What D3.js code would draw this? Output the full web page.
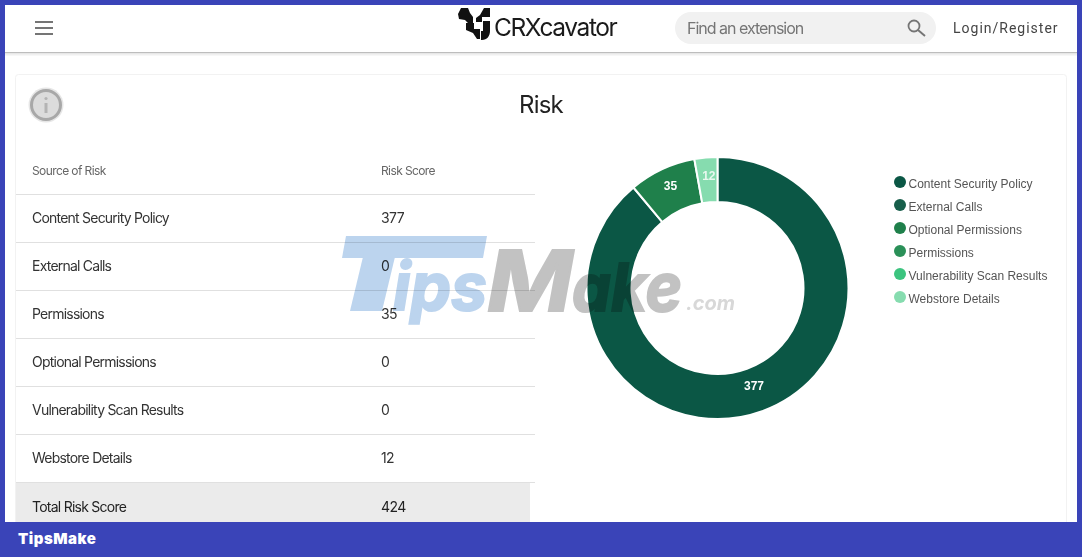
<!DOCTYPE html>
<html>
<head>
<meta charset="utf-8">
<script src="https://cdn.jsdelivr.net/npm/d3@7"></script>
<style>
html, body { margin: 0; padding: 0; background: #fff; overflow: hidden; }
svg { display: block; }
text { font-family: Inter, "Liberation Sans", sans-serif; }
</style>
</head>
<body>
<div id="chart"></div>
<script>
// legend
const legendNames = ["Content Security Policy", "External Calls", "Optional Permissions", "Permissions", "Vulnerability Scan Results", "Webstore Details"];
const sliceColors = ["#0b5745", "#175e4a", "#1f804b", "#2a9058", "#3cc47f", "#86dcaf"];

// table, the donut is drawn from it too (colours go by table order)
const tableHeader = ["Source of Risk", "Risk Score"];
const tableNames = ["Content Security Policy", "External Calls", "Permissions", "Optional Permissions", "Vulnerability Scan Results", "Webstore Details"];
const tableScores = [377, 0, 35, 0, 0, 12];
const totalLabel = "Total Risk Score";
const totalScore = 424;

const W = 1082, H = 557;
const svg = d3.select("#chart").append("svg").attr("width", W).attr("height", H);

const drawPage = () => {
	svg.append("rect").attr("width", W).attr("height", H).attr("fill", "#3a44b8");
	svg.append("rect").attr("x", 5).attr("y", 5).attr("width", 1072).attr("height", 517).attr("fill", "#fff");
	// app bar
	svg.append("rect").attr("x", 5).attr("y", 52).attr("width", 1072).attr("height", 1.5).attr("fill", "#bdbdbd");
	svg.append("rect").attr("x", 5).attr("y", 53.5).attr("width", 1072).attr("height", 2).attr("fill", "#f0f0f0");
	[21, 27, 33].forEach(y => {
		svg.append("rect").attr("x", 35).attr("y", y).attr("width", 18).attr("height", 2).attr("fill", "#757575");
	});

	// logo
	const logo = svg.append("g").attr("transform", "translate(458,8)").attr("fill", "#111");
	logo.append("path").attr("d", "M3 0h7l2 5 3 4v6h-5l-3-3-6-1-1-5z");
	logo.append("path").attr("d", "M18 10l4-3 4-7h6v9h-8v5h-6z");
	logo.append("path").attr("d", "M8 15h8v6h6v10h-3l-4-6-7-3z");
	logo.append("path").attr("d", "M25 13h7v10c0 5-3 9-8 9h-1v-9h2z");
	svg.append("text").attr("x", 494).attr("y", 36).attr("font-size", 24.5).attr("letter-spacing", -1.4).attr("fill", "#1a1a1a").text("CRXcavator");

	// search
	svg.append("rect").attr("x", 675).attr("y", 12).attr("width", 261).attr("height", 32).attr("rx", 16).attr("fill", "#f1f1f1");
	svg.append("text").attr("x", 687).attr("y", 34).attr("font-size", 16).attr("letter-spacing", -1).attr("fill", "#757575").text("Find an extension");
	svg.append("circle").attr("cx", 914).attr("cy", 26).attr("r", 5.5).attr("fill", "none").attr("stroke", "#757575").attr("stroke-width", 1.8);
	svg.append("line").attr("x1", 918).attr("y1", 30).attr("x2", 925).attr("y2", 36).attr("stroke", "#757575").attr("stroke-width", 2);
	svg.append("text").attr("x", 953).attr("y", 33).attr("font-size", 14).attr("letter-spacing", 1).attr("fill", "#444")
		.style("font-family", "Roboto").text("Login/Register");

	// card
	svg.append("rect").attr("x", 15.5).attr("y", 74.5).attr("width", 1051).attr("height", 460).attr("rx", 3)
		.attr("fill", "#fff").attr("stroke", "#f2f2f2");
	svg.append("text").attr("x", 541).attr("y", 113).attr("text-anchor", "middle").attr("font-size", 24).attr("letter-spacing", -0.8).attr("fill", "#222").text("Risk");

	// info icon
	svg.append("circle").attr("cx", 46).attr("cy", 105).attr("r", 17.5).attr("fill", "#e6e6e6");
	svg.append("circle").attr("cx", 46).attr("cy", 105).attr("r", 14.5).attr("fill", "#dcdcdc").attr("stroke", "#a8a8a8").attr("stroke-width", 3);
	svg.append("circle").attr("cx", 46).attr("cy", 98.5).attr("r", 1.6).attr("fill", "#b4b4b4");
	svg.append("rect").attr("x", 44.5).attr("y", 103).attr("width", 3).attr("height", 10).attr("fill", "#b4b4b4");
};

const drawTable = () => {
	const rowY = d3.scaleBand().domain(d3.range(tableNames.length + 1)).range([195, 531]);
	const g = svg.append("g");

	g.selectAll(".hd").data(tableHeader).join("text").attr("class", "hd")
		.attr("x", (d, i) => i ? 381 : 32).attr("y", 175).attr("font-size", 12).attr("letter-spacing", -0.6)
		.attr("fill", "#666").text(d => d);
	g.append("line").attr("x1", 16).attr("x2", 535).attr("y1", 194.5).attr("y2", 194.5).attr("stroke", "#e0e0e0");

	g.selectAll(".rule").data(tableNames).join("line").attr("class", "rule")
		.attr("x1", 16).attr("x2", 535)
		.attr("y1", (d, i) => rowY(i) + rowY.bandwidth() - 0.5).attr("y2", (d, i) => rowY(i) + rowY.bandwidth() - 0.5)
		.attr("stroke", "#e0e0e0");

	g.selectAll(".name").data(tableNames).join("text").attr("class", "name")
		.attr("x", 32).attr("y", (d, i) => rowY(i) + 28).attr("font-size", 14).attr("letter-spacing", -0.78)
		.attr("fill", "#333").text(d => d);
	g.selectAll(".score").data(tableScores).join("text").attr("class", "score")
		.attr("x", 381).attr("y", (d, i) => rowY(i) + 28).attr("font-size", 14).attr("letter-spacing", -0.6)
		.attr("fill", "#333").text(d => d);

	// total row, cut by the footer bar
	const n = tableNames.length;
	g.append("rect").attr("x", 16).attr("y", rowY(n)).attr("width", 514).attr("height", rowY.bandwidth()).attr("fill", "#ebebeb");
	g.append("text").attr("x", 32).attr("y", rowY(n) + 29).attr("font-size", 14).attr("letter-spacing", -0.75).attr("fill", "#222").text(totalLabel);
	g.append("text").attr("x", 381).attr("y", rowY(n) + 29).attr("font-size", 14).attr("letter-spacing", -0.6).attr("fill", "#222").text(totalScore);
};

const drawDonut = () => {
	const cx = 717.5, cy = 288, outer = 131, inner = 86;
	const pie = d3.pie().sort(null).value(d => d.value);
	const arc = d3.arc().innerRadius(inner).outerRadius(outer);
	const data = pie(tableNames.map((name, i) => ({ name, value: tableScores[i], color: sliceColors[i] })));
	const shown = data.filter(d => d.data.value > 0);

	const g = svg.append("g").attr("transform", `translate(${cx},${cy})`);
	g.selectAll("path").data(shown).join("path")
		.attr("d", arc).attr("fill", d => d.data.color).attr("stroke", "#fff").attr("stroke-width", 2);

	const labels = g.selectAll("text").data(shown).join("text")
		.attr("text-anchor", "middle").attr("font-size", 12).attr("font-weight", 700)
		.style("font-family", "Liberation Sans")
		.attr("fill", "#fff")
		.attr("transform", d => {
			// labels sit a little past the centre of the ring
			const a = (d.startAngle + d.endAngle) / 2;
			const r = d.data.value > 100 ? (inner + outer) / 2 - 6 : (inner + outer) / 2 + 6;
			return `translate(${Math.sin(a) * r + 1.5},${-Math.cos(a) * r + 6})`;
		})
		.text(d => d.data.value);
	labels.filter(d => d.data.value === 12).attr("fill", "#e8f8ef");

	const legendY = d3.scalePoint().domain(legendNames).range([182, 297]);
	const lg = svg.append("g");
	lg.selectAll("circle").data(legendNames).join("circle")
		.attr("cx", 900).attr("cy", d => legendY(d)).attr("r", 6)
		.attr("fill", (d, i) => sliceColors[i]);
	lg.selectAll("text").data(legendNames).join("text")
		.attr("x", 908.5).attr("y", d => legendY(d) + 6).attr("font-size", 12)
		.style("font-family", "Liberation Sans").attr("fill", "#555").text(d => d);
};

const drawWatermark = () => {
	const g = svg.append("g").style("font-family", "Liberation Sans").attr("font-weight", 700).attr("font-style", "italic")
		.style("mix-blend-mode", "multiply");
	const blue = "#bcd4ee", grey = "#c2c2c2";
	// long bar of the T runs over "ips"
	g.append("path").attr("d", "M346 236h141l-4 22h-141z").attr("fill", blue);
	g.append("path").attr("d", "M368 236h32l-18 75h-32z").attr("fill", blue);
	g.append("text").attr("x", 393).attr("y", 310).attr("font-size", 66).attr("textLength", 94).attr("lengthAdjust", "spacingAndGlyphs")
		.attr("fill", blue).attr("stroke", blue).attr("stroke-width", 2).text("ips");
	g.append("text").attr("x", 487).attr("y", 311).attr("font-size", 84).attr("textLength", 86).attr("lengthAdjust", "spacingAndGlyphs")
		.attr("fill", grey).attr("stroke", grey).attr("stroke-width", 2).text("M");
	g.append("text").attr("x", 572).attr("y", 311).attr("font-size", 66).attr("textLength", 110).attr("lengthAdjust", "spacingAndGlyphs")
		.attr("fill", grey).attr("stroke", grey).attr("stroke-width", 2).text("ake");
	g.append("text").attr("x", 686).attr("y", 310).attr("font-size", 20)
		.attr("fill", "#d8d8d8").text(".com");
};

const drawFooter = () => {
	svg.append("rect").attr("x", 0).attr("y", 522).attr("width", W).attr("height", 35).attr("fill", "#3a44b8");
	svg.append("text").attr("x", 18).attr("y", 544).attr("font-size", 15).attr("font-weight", 900).attr("letter-spacing", 0.5)
		.attr("fill", "#fff").text("TipsMake");
};

drawPage();
drawTable();
drawDonut();
drawWatermark();
drawFooter();
</script>
</body>
</html>
